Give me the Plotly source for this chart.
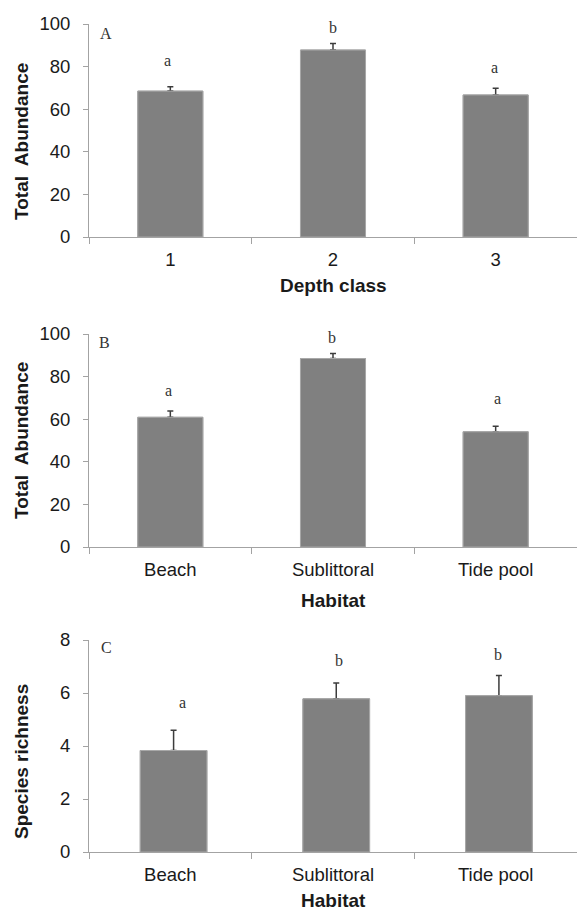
import plotly.graph_objects as go

# ---------------- data ----------------
depth_classes = ["1", "2", "3"]
habitats = ["Beach", "Sublittoral", "Tide pool"]

abund_depth = [68.5, 87.8, 66.7]
abund_depth_err = [2.0, 3.1, 3.1]
abund_depth_letters = ["a", "b", "a"]

abund_hab = [60.9, 88.5, 54.1]
abund_hab_err = [3.0, 2.3, 2.6]
abund_hab_letters = ["a", "b", "a"]

rich_hab = [3.83, 5.78, 5.90]
rich_hab_err = [0.76, 0.60, 0.76]
rich_hab_letters = ["a", "b", "b"]

abund_ticks = [0, 20, 40, 60, 80, 100]
rich_ticks = [0, 2, 4, 6, 8]

panel_labels = ["A", "B", "C"]
y_titles = ["Total  Abundance", "Total  Abundance", "Species richness"]
x_titles = ["Depth class", "Habitat", "Habitat"]

# letter label heights (data units) and small horizontal shifts (px)
letter_y = [[82.9, 98.5, 79.5], [73.5, 98.5, 69.8], [5.63, 7.24, 7.44]]
letter_dx = [[-3, 0, -1], [-2, -1, 2], [12, 6, 2]]

# ---------------- layout helpers ----------------
W, H = 577, 913
L, R = 89, 0
PW = W - L - R


def px_x(px):
    return (px - L) / PW


def px_y(py):
    return (H - py) / H


panel_px = [(24, 237), (334, 547), (640, 852)]
ranges = [[0, 100], [0, 100], [0, 8]]
tickvals = [abund_ticks, abund_ticks, rich_ticks]
cats = [depth_classes, habitats, habitats]
vals = [abund_depth, abund_hab, rich_hab]
errs = [abund_depth_err, abund_hab_err, rich_hab_err]
letters = [abund_depth_letters, abund_hab_letters, rich_hab_letters]
ytitle_py = [142, 441, 762]
xtitle_py = [285, 600, 900]
panel_lab_pos = [(106, 33), (104.5, 342.5), (106, 647.5)]
bar_width = [0.4, 0.4, 0.41]
bar_offset = [-0.2, -0.2, -0.185]

AXIS_COL = "#a3a3a3"
TICK_FONT = dict(family="Liberation Sans, Arial, sans-serif", size=18.5, color="#1a1a1a")
TITLE_FONT = dict(family="Liberation Sans, Arial, sans-serif", size=19, color="#1a1a1a")
SERIF = dict(family="Liberation Serif, Times New Roman, serif", size=16, color="#333333")
BAR_MARKER = dict(color="#808080", line=dict(color="#a8a8a8", width=1))

fig = go.Figure()
layout = dict(
    width=W, height=H,
    margin=dict(l=L, r=R, t=0, b=0, pad=0, autoexpand=False),
    paper_bgcolor="white", plot_bgcolor="white",
    showlegend=False,
    barmode="overlay",
)
annotations = []

for i in range(3):
    n = "" if i == 0 else str(i + 1)
    xa, ya = "x" + n, "y" + n
    # bars carrying the (upper) error bars
    fig.add_trace(go.Bar(
        x=cats[i], y=vals[i], xaxis=xa, yaxis=ya,
        width=bar_width[i], offset=bar_offset[i],
        marker=BAR_MARKER,
        error_y=dict(type="data", symmetric=False, array=errs[i],
                     arrayminus=[0] * len(errs[i]),
                     color="#3c3c3c", thickness=1.5, width=3),
        hoverinfo="skip",
    ))
    # same bars on top, hiding the lower half of each error bar
    fig.add_trace(go.Bar(
        x=cats[i], y=vals[i], xaxis=xa, yaxis=ya,
        width=bar_width[i], offset=bar_offset[i],
        marker=BAR_MARKER, hoverinfo="skip",
    ))
    top, bot = panel_px[i]
    layout["xaxis" + n] = dict(
        type="category", domain=[0, 1], anchor=ya,
        range=[-0.5, 2.5],
        showline=True, linecolor=AXIS_COL, linewidth=1,
        ticks="outside", tickson="boundaries", ticklen=6, tickcolor=AXIS_COL,
        tickfont=TICK_FONT, showgrid=False, zeroline=False,
        ticklabelstandoff=6,
        automargin=False, fixedrange=True,
    )
    layout["yaxis" + n] = dict(
        domain=[px_y(bot), px_y(top)], anchor=xa,
        range=ranges[i], tickvals=tickvals[i],
        showline=True, linecolor=AXIS_COL, linewidth=1,
        ticks="outside", ticklen=5, tickcolor=AXIS_COL,
        tickfont=TICK_FONT, showgrid=False, zeroline=False,
        ticklabelstandoff=9,
        automargin=False, fixedrange=True,
    )
    annotations.append(dict(
        text="<b>%s</b>" % y_titles[i], xref="paper", yref="paper",
        x=px_x(21), y=px_y(ytitle_py[i]), textangle=-90,
        xanchor="center", yanchor="middle", showarrow=False, font=TITLE_FONT,
    ))
    annotations.append(dict(
        text="<b>%s</b>" % x_titles[i], xref="paper", yref="paper",
        x=px_x(333), y=px_y(xtitle_py[i]),
        xanchor="center", yanchor="middle", showarrow=False, font=TITLE_FONT,
    ))
    annotations.append(dict(
        text=panel_labels[i], xref="paper", yref="paper",
        x=px_x(panel_lab_pos[i][0]), y=px_y(panel_lab_pos[i][1]),
        xanchor="center", yanchor="middle", showarrow=False, font=SERIF,
    ))
    for j in range(len(cats[i])):
        annotations.append(dict(
            text=letters[i][j], xref=xa, yref=ya, x=j, y=letter_y[i][j],
            xshift=letter_dx[i][j],
            xanchor="center", yanchor="middle", showarrow=False, font=SERIF,
        ))

layout["annotations"] = annotations
fig.update_layout(**layout)
fig.write_html("out.html", config={"displayModeBar": False},
               post_script="document.body.style.margin='0px';")
